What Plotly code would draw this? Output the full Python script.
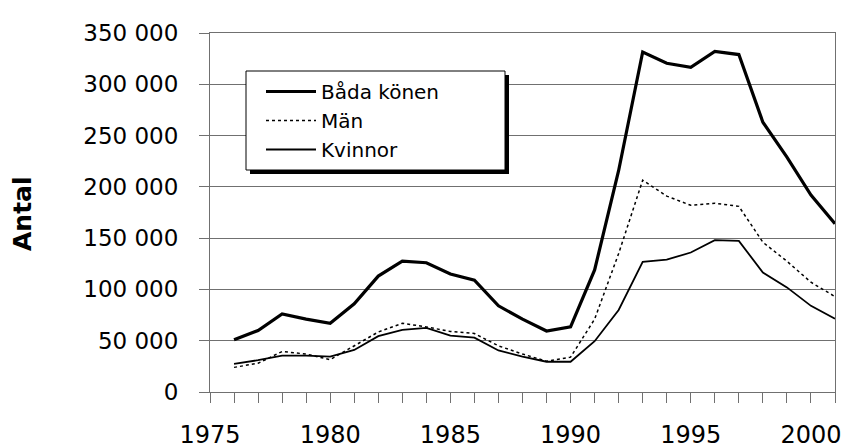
import plotly.graph_objects as go

years = list(range(1976, 2002))
bada = [51000, 60000, 76000, 71000, 67000, 86000, 113000, 127500, 126000, 115000,
        109000, 84000, 71000, 59500, 63500, 119000, 216000, 331500, 320500, 316500,
        332000, 329000, 263000, 229000, 192000, 164000]
man = [24000, 28000, 39500, 37000, 31500, 45000, 58500, 67000, 63500, 59000,
       57000, 45000, 37000, 30000, 34000, 71000, 135000, 206500, 191000, 182000,
       184000, 181000, 146000, 127500, 107000, 93000]
kvinnor = [27500, 31000, 35500, 35500, 34500, 41000, 54500, 60500, 62500, 55000,
           53000, 40500, 34500, 29500, 29500, 49500, 80000, 127000, 129000, 136000,
           148000, 147300, 116500, 102000, 84000, 71500]
x_ticks = [1975, 1980, 1985, 1990, 1995, 2000]
y_ticks = [0, 50000, 100000, 150000, 200000, 250000, 300000, 350000]

FONT = "DejaVu Sans"
GRID = "#707070"

fig = go.Figure()
fig.add_trace(go.Scatter(x=years, y=bada, mode="lines", name="Båda könen",
                         line=dict(color="black", width=3.2)))
fig.add_trace(go.Scatter(x=years, y=man, mode="lines", name="Män",
                         line=dict(color="black", width=1.5, dash="dot")))
fig.add_trace(go.Scatter(x=years, y=kvinnor, mode="lines", name="Kvinnor",
                         line=dict(color="black", width=1.8)))

# legend box with shadow (paper coords)
L, R, T, B = 210, 835, 33, 392
def px(xp): return (xp - L) / (R - L)
def py(yp): return (B - yp) / (B - T)

fig.add_shape(type="rect", xref="paper", yref="paper",
              x0=px(250), x1=px(509), y0=py(174), y1=py(75),
              fillcolor="black", line=dict(width=0), layer="above")
fig.add_shape(type="rect", xref="paper", yref="paper",
              x0=px(246), x1=px(505), y0=py(170), y1=py(71),
              fillcolor="white", line=dict(color="black", width=1), layer="above")

fig.add_annotation(text="<b>Antal</b>", xref="paper", yref="paper",
                   x=px(23), y=py(214), xanchor="center", yanchor="middle",
                   textangle=-90, showarrow=False,
                   font=dict(family=FONT, size=25, color="black"))

fig.update_layout(
    width=844, height=448,
    margin=dict(l=210, r=9, t=33, b=56, autoexpand=False),
    paper_bgcolor="white", plot_bgcolor="white",
    separators=", ",
    font=dict(family=FONT, color="black", size=20),
    showlegend=True,
    legend=dict(x=px(261), y=py(72), xanchor="left", yanchor="top",
                bgcolor="rgba(0,0,0,0)", borderwidth=0,
                font=dict(family=FONT, size=20, color="black"),
                itemwidth=50, tracegroupgap=0),
    xaxis=dict(range=[1975, 2001], tickvals=x_ticks, automargin=False,
               ticks="outside", ticklen=10, tickcolor=GRID,
               minor=dict(dtick=1, tick0=1975, ticks="outside", ticklen=10, tickcolor=GRID),
               showgrid=False, zeroline=False,
               showline=True, linecolor=GRID, linewidth=1, mirror=True,
               tickfont=dict(family=FONT, size=24, color="black"),
               ticklabelstandoff=11),
    yaxis=dict(range=[0, 350000], tickvals=y_ticks, tickformat=",d", automargin=False,
               ticks="outside", ticklen=10, tickcolor=GRID,
               showgrid=True, gridcolor=GRID, gridwidth=1, zeroline=False,
               showline=True, linecolor=GRID, linewidth=1, mirror=True,
               tickfont=dict(family=FONT, size=23, color="black"),
               ticklabelstandoff=16),
)

fig.write_html("out.html", config={"displayModeBar": False},
               post_script="document.body.style.margin='0';document.body.style.padding='0';")
